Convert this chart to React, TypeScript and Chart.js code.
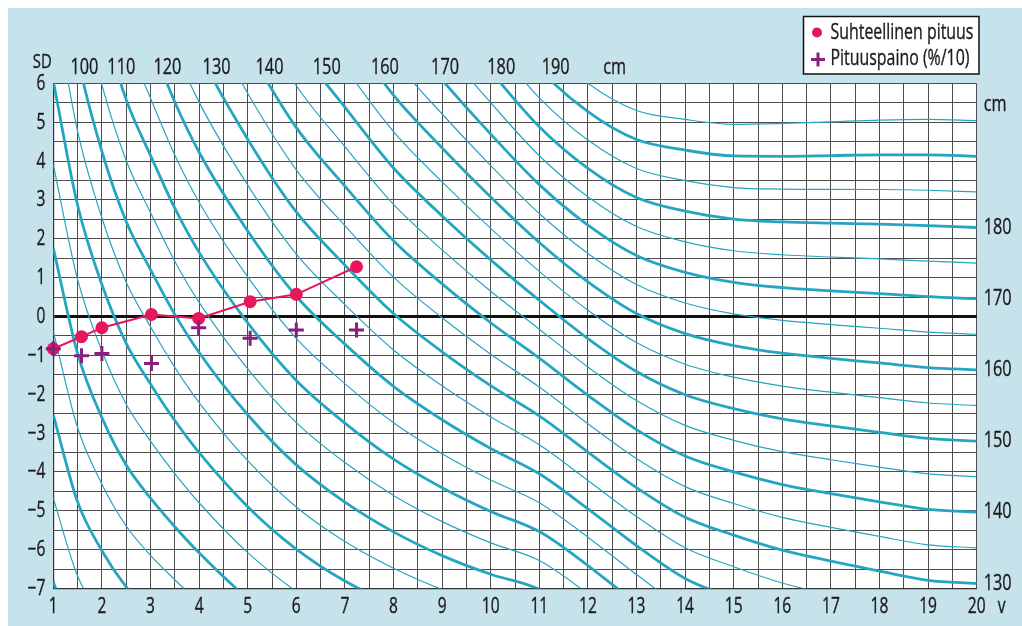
import React, { useEffect, useRef } from "react";
import { Chart, registerables } from "chart.js";

Chart.register(...registerables);

// ---- Reference table (age in years, mean and SD of height in cm) ----
const AGES = [1, 1.5, 2, 2.5, 3, 3.5, 4, 5, 6, 7, 8, 9, 10, 11, 12, 13, 14, 15, 16, 17, 18, 19, 20];
const MEAN_CM = [75.9, 82.5, 87.6, 92.2, 95.9, 99.8, 103.6, 110.7, 117.6, 123.5, 129.6, 135.2, 141.0, 147.2, 153.9, 159.5, 162.8, 164.6, 165.6, 166.2, 166.7, 167.2, 167.5];
const SD_CM = [2.33, 2.62, 2.92, 3.19, 3.4, 3.66, 3.88, 4.23, 4.61, 4.92, 5.34, 5.72, 6.18, 6.72, 6.85, 6.7, 6.35, 6.15, 5.92, 5.75, 5.6, 5.48, 5.46];

// iso-height lines (cm)
const HEIGHT_LINES_CM = [60, 65, 70, 75, 80, 85, 90, 95, 100, 105, 110, 115, 120, 125, 130, 135, 140, 145, 150, 155, 160, 165, 170, 175, 180, 185, 190, 195];
const TOP_LABELS_CM = [100, 110, 120, 130, 140, 150, 160, 170, 180, 190];
const RIGHT_LABELS_CM = [130, 140, 150, 160, 170, 180];
const TOP_UNIT_AGE = 12.55;
const RIGHT_UNIT_SD = 5.45;

// tick labels
const X_TICKS = [1, 2, 3, 4, 5, 6, 7, 8, 9, 10, 11, 12, 13, 14, 15, 16, 17, 18, 19, 20];
const Y_TICKS = [-7, -6, -5, -4, -3, -2, -1, 0, 1, 2, 3, 4, 5, 6];

// patient measurements
const PATIENT_AGES = [1.0, 1.58, 2.0, 3.02, 3.99, 5.05, 6.0, 7.24];
const RELATIVE_HEIGHT_SD = [-0.83, -0.52, -0.29, 0.05, -0.05, 0.38, 0.57, 1.28];
const WEIGHT_FOR_HEIGHT = [-0.83, -1.01, -0.95, -1.21, -0.29, -0.56, -0.35, -0.35];

const LEGEND_LABELS = ["Suhteellinen pituus", "Pituuspaino (%/10)"];

const CURVE_COLOR = "#25a6c0";
const PINK = "#e6175c";
const PURPLE = "#861f7d";
const TEXT = "#1e1b1c";
const FONT = "'Open Sans', 'Noto Sans', sans-serif";
const SX = 0.74;

function sdOf(h: number, i: number) {
  return (h - MEAN_CM[i]) / SD_CM[i];
}

function topCrossAge(h: number, level = 6) {
  for (let i = 1; i < AGES.length; i++) {
    const y0 = sdOf(h, i - 1);
    const y1 = sdOf(h, i);
    if (y0 > level && y1 <= level) {
      return AGES[i - 1] + ((AGES[i] - AGES[i - 1]) * (y0 - level)) / (y0 - y1);
    }
  }
  return AGES[0];
}

function drawText(ctx: CanvasRenderingContext2D, t: string, x: number, y: number, align: CanvasTextAlign, size: number) {
  ctx.save();
  ctx.translate(x, y);
  ctx.scale(SX, 1);
  ctx.font = `${size}px ${FONT}`;
  ctx.textAlign = align;
  ctx.textBaseline = "middle";
  ctx.fillStyle = TEXT;
  ctx.strokeStyle = TEXT;
  ctx.lineWidth = 0.35;
  ctx.fillText(t, 0, 0);
  ctx.strokeText(t, 0, 0);
  ctx.restore();
}

const areaBg = {
  id: "areaBg",
  beforeDraw(chart: any) {
    const { ctx, chartArea } = chart;
    ctx.save();
    ctx.fillStyle = "#ffffff";
    ctx.fillRect(chartArea.left, chartArea.top, chartArea.right - chartArea.left, chartArea.bottom - chartArea.top);
    ctx.restore();
  },
};

const texts = {
  id: "texts",
  afterDraw(chart: any) {
    const { ctx, chartArea } = chart;
    const x = chart.scales.x;
    const y = chart.scales.y;
    Y_TICKS.forEach((v) => {
      const s = v < 0 ? "\u2212" + Math.abs(v) : String(v);
      drawText(ctx, s, chartArea.left - 8, y.getPixelForValue(v) + 0.5, "right", 21);
    });
    X_TICKS.forEach((v) => {
      drawText(ctx, String(v), x.getPixelForValue(v), chartArea.bottom + 18.5, "center", 21);
    });
    drawText(ctx, "v", x.getPixelForValue(20) + 25, chartArea.bottom + 18.5, "center", 21);
    drawText(ctx, "SD", chartArea.left - 11, chartArea.top - 21, "center", 20);
    TOP_LABELS_CM.forEach((h) => {
      drawText(ctx, String(h), x.getPixelForValue(topCrossAge(h)), chartArea.top - 16, "center", 22);
    });
    drawText(ctx, "cm", x.getPixelForValue(TOP_UNIT_AGE), chartArea.top - 16, "center", 22);
    const last = AGES.length - 1;
    RIGHT_LABELS_CM.forEach((h) => {
      drawText(ctx, String(h), chartArea.right + 7, y.getPixelForValue(sdOf(h, last)), "left", 22);
    });
    drawText(ctx, "cm", chartArea.right + 7, y.getPixelForValue(RIGHT_UNIT_SD), "left", 22);

    // legend box
    const bx = 795.5, by = 8.5, bw = 175.5, bh = 57.5;
    ctx.save();
    ctx.fillStyle = "#ffffff";
    ctx.fillRect(bx, by, bw, bh);
    ctx.strokeStyle = "#111";
    ctx.lineWidth = 1.5;
    ctx.strokeRect(bx, by, bw, bh);
    ctx.fillStyle = PINK;
    ctx.beginPath();
    ctx.arc(bx + 13.5, by + 16, 5, 0, Math.PI * 2);
    ctx.fill();
    ctx.strokeStyle = PURPLE;
    ctx.lineWidth = 3;
    ctx.beginPath();
    ctx.moveTo(bx + 7.5, by + 43);
    ctx.lineTo(bx + 21.5, by + 43);
    ctx.moveTo(bx + 14.5, by + 36);
    ctx.lineTo(bx + 14.5, by + 50);
    ctx.stroke();
    ctx.restore();
    drawText(ctx, LEGEND_LABELS[0], bx + 27, by + 16, "left", 21.5);
    drawText(ctx, LEGEND_LABELS[1], bx + 27, by + 42.5, "left", 21.5);
  },
};

export default function App() {
  const ref = useRef<HTMLCanvasElement>(null);

  useEffect(() => {
    const curveSets = HEIGHT_LINES_CM.map((h) => ({
      label: `${h} cm`,
      data: AGES.map((a, i) => ({ x: a, y: sdOf(h, i) })),
      borderColor: CURVE_COLOR,
      borderWidth: h % 10 === 0 ? 2.8 : 1.2,
      pointRadius: 0,
      cubicInterpolationMode: "monotone" as const,
      clip: 0,
      order: 3,
    }));

    const chart = new Chart(ref.current!, {
      type: "line",
      data: {
        datasets: [
          {
            label: LEGEND_LABELS[1],
            data: PATIENT_AGES.map((a, i) => ({ x: a, y: WEIGHT_FOR_HEIGHT[i] })),
            showLine: false,
            pointStyle: "cross",
            pointRadius: 7.5,
            pointBorderWidth: 3,
            borderColor: PURPLE,
            backgroundColor: PURPLE,
            clip: false as any,
            order: 0,
          },
          {
            label: LEGEND_LABELS[0],
            data: PATIENT_AGES.map((a, i) => ({ x: a, y: RELATIVE_HEIGHT_SD[i] })),
            borderColor: PINK,
            backgroundColor: PINK,
            borderWidth: 2,
            pointRadius: 5.5,
            pointBackgroundColor: PINK,
            pointBorderColor: PINK,
            tension: 0,
            clip: false as any,
            order: 1,
          },
          ...curveSets,
        ] as any,
      },
      options: {
        animation: false,
        responsive: false,
        events: [],
        layout: { padding: { top: 75.3, right: 45.3, left: 0, bottom: 0 } },
        plugins: { legend: { display: false }, tooltip: { enabled: false } },
        scales: {
          x: {
            type: "linear",
            min: 1,
            max: 20,
            ticks: { stepSize: 0.5, display: false },
            grid: { color: "#4d4d4d", lineWidth: 1, drawTicks: false },
            border: { color: "#333", width: 1.2 },
            afterFit: (s: any) => {
              s.height = 31.5;
            },
          },
          y: {
            type: "linear",
            min: -7,
            max: 6,
            ticks: { stepSize: 0.5, display: false },
            grid: {
              drawTicks: false,
              color: (c: any) => (Math.abs(c.tick?.value ?? 1) < 1e-9 ? "#111" : "#4d4d4d"),
              lineWidth: (c: any) => (Math.abs(c.tick?.value ?? 1) < 1e-9 ? 3 : 1),
            },
            border: { color: "#333", width: 1.2 },
            afterFit: (s: any) => {
              s.width = 45.3;
            },
          },
        },
      } as any,
      plugins: [areaBg, texts],
    });
    return () => chart.destroy();
  }, []);

  return (
    <div
      style={{
        position: "fixed",
        left: 8,
        top: 8,
        width: 1014,
        height: 618,
        background: "#c6e3eb",
      }}
    >
      <canvas ref={ref} width={1014} height={612} style={{ display: "block", width: 1014, height: 612 }} />
    </div>
  );
}
